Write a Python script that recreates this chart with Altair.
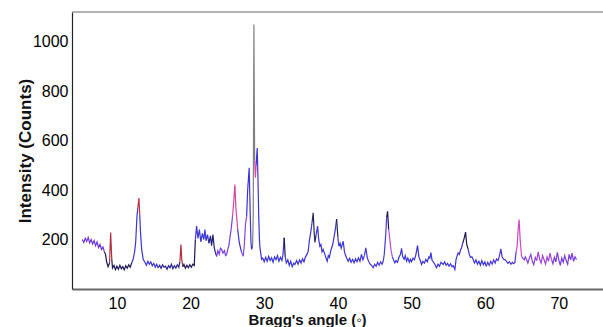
import altair as alt
import pandas as pd

# Powder XRD pattern: diffraction angle (2-theta, degrees) and intensity (counts)
angle = [
    5.3, 5.5, 5.7, 5.9, 6.1, 6.3, 6.5, 6.7, 6.9, 7.1, 7.3, 7.5, 7.7, 7.9, 8.1, 8.3, 8.45, 8.6, 8.8,
    9.0, 9.15, 9.3, 9.4,
    9.6, 9.8, 10.0, 10.2, 10.4, 10.6, 10.8, 11.0, 11.2, 11.4, 11.6, 11.8, 12.0,
    12.2, 12.4, 12.55, 12.72, 12.85, 12.99, 13.1, 13.2, 13.36, 13.57,
    13.8, 14.0, 14.2, 14.4, 14.6, 14.8, 15.0, 15.2, 15.4, 15.6, 15.8, 16.0, 16.2, 16.4, 16.6, 16.8,
    17.0, 17.2, 17.4, 17.6, 17.8, 18.0, 18.2, 18.4, 18.55, 18.69, 18.8, 18.95, 19.1, 19.3, 19.5,
    19.7, 19.9, 20.1, 20.3, 20.5,
    20.65, 20.82, 21.0, 21.2, 21.4, 21.6, 21.8, 21.95, 22.1, 22.3, 22.5, 22.7, 22.85, 23.04, 23.2,
    23.35, 23.54, 23.7, 23.9, 24.05, 24.22, 24.4, 24.6, 24.75, 24.89, 25.05, 25.2, 25.34, 25.5,
    25.7, 25.85, 26.02, 26.15, 26.25, 26.4, 26.61, 26.75, 26.9, 27.05, 27.15, 27.3, 27.45, 27.61,
    27.75, 27.96, 28.1, 28.2, 28.29, 28.42, 28.51, 28.6, 28.7, 28.8, 28.9, 29.05, 29.15, 29.25,
    29.35, 29.42, 29.55, 29.65,
    29.8, 30.0, 30.2, 30.4, 30.6, 30.8, 31.0, 31.2, 31.4, 31.6, 31.8, 32.0, 32.2, 32.4, 32.55,
    32.71, 32.85, 33.0, 33.2, 33.4, 33.6, 33.8, 34.0, 34.17,
    34.4, 34.6, 34.8, 35.0, 35.2, 35.4, 35.6, 35.8, 35.97, 36.15, 36.34, 36.5, 36.65, 36.78, 36.88,
    37.05, 37.25, 37.4, 37.56, 37.7, 37.85, 38.0, 38.24, 38.4, 38.55, 38.7, 38.85, 39.0, 39.15,
    39.3, 39.5, 39.65, 39.83, 40.0, 40.14, 40.3, 40.45, 40.6, 40.72, 40.9, 41.05, 41.18,
    41.4, 41.6, 41.8, 42.0, 42.2, 42.4, 42.6, 42.8, 43.0, 43.2, 43.4, 43.6, 43.8, 44.0, 44.2, 44.4,
    44.6, 44.79, 45.0, 45.2, 45.4, 45.6, 45.8, 46.0, 46.15,
    46.3, 46.5, 46.62, 46.75, 46.9, 47.06, 47.2, 47.4, 47.55, 47.74, 47.9, 48.1, 48.3, 48.5, 48.65,
    48.8, 49.0, 49.15, 49.33, 49.5, 49.7, 49.85, 50.01, 50.2, 50.4, 50.6, 50.82, 51.0, 51.2, 51.36,
    51.55, 51.75, 51.95, 52.15, 52.35, 52.5, 52.63, 52.8, 53.0, 53.2, 53.4, 53.6, 53.8, 54.0, 54.3,
    54.5, 54.7, 54.9, 55.1, 55.3, 55.5, 55.65, 55.89, 56.05, 56.2, 56.33, 56.5, 56.65, 56.79, 56.95,
    57.15, 57.34, 57.5, 57.69, 57.85, 58.0, 58.2, 58.37,
    58.55, 58.75, 58.95, 59.15, 59.35, 59.55, 59.75, 59.95, 60.15, 60.35, 60.55, 60.75, 60.95,
    61.15, 61.35, 61.55, 61.75, 61.95, 62.13, 62.3, 62.5, 62.7, 62.9, 63.1, 63.3, 63.5, 63.7,
    63.85, 64.03,
    64.2, 64.34, 64.48, 64.61, 64.75, 64.94, 65.1, 65.3, 65.45, 65.62, 65.8, 66.0, 66.2, 66.4, 66.6,
    66.8, 67.0, 67.2, 67.4, 67.6, 67.8, 68.0, 68.2, 68.4, 68.6, 68.8, 69.0, 69.2, 69.4, 69.6, 69.8,
    70.0, 70.2, 70.4, 70.6, 70.8, 71.0, 71.2, 71.4, 71.6, 71.8, 72.0, 72.2, 72.4,
]
counts = [
    200, 188, 205, 192, 208, 186, 200, 182, 196, 175, 190, 168, 180, 160, 170, 150, 140, 110, 90,
    105, 228, 120, 85,
    95, 78, 92, 80, 96, 82, 90, 78, 94, 84, 98, 88, 105,
    120, 150, 190, 294, 330, 368, 300, 230, 160, 119,
    108, 96, 112, 100, 110, 94, 104, 88, 100, 86, 96, 84, 98, 88, 92, 80,
    94, 86, 100, 82, 94, 85, 98, 88, 110, 180, 120, 90, 100, 84, 96,
    86, 98, 88, 100, 95,
    200, 254, 205, 240, 190, 225, 200, 240, 195, 220, 185, 215, 175, 220, 170,
    150, 132, 155, 140, 165, 160, 145, 155, 135, 139, 160, 175, 207, 240,
    294, 350, 422, 330, 294, 240, 188, 170, 150, 140, 132, 180, 260, 294,
    400, 490, 300, 190, 160, 175, 300, 1069, 520, 450, 500, 570, 450, 300,
    200, 167, 140, 120,
    125, 110, 128, 112, 132, 115, 126, 108, 130, 118, 135, 112, 128, 115, 140,
    207, 130, 105, 118, 95, 112, 90, 104, 99,
    115, 100, 118, 105, 122, 110, 130, 140, 153, 200, 234, 270, 308, 230, 188,
    220, 254, 200, 173, 180, 150, 160, 139, 125, 112, 135, 128, 150, 166,
    180, 213, 240, 283, 210, 173, 185, 165, 180, 193, 150, 135, 126,
    112, 124, 108, 120, 106, 122, 110, 126, 112, 140, 118, 135, 166, 125, 110, 100,
    95, 86, 100, 92, 108, 96, 110, 100, 112,
    140, 220, 290, 314, 240, 200, 160, 130, 118, 106, 115, 108, 128, 140, 164,
    130, 120, 135, 112, 125, 108, 120, 110, 125, 118, 140, 176, 130, 115, 99,
    112, 105, 120, 110, 130, 125, 147, 115, 108, 98, 86, 100, 92, 108, 99,
    110, 96, 104, 92, 102, 90, 95, 79, 120, 135, 146, 140, 158, 166, 185,
    205, 230, 180, 160, 140, 128, 130, 119,
    105, 118, 100, 112, 96, 115, 98, 110, 92, 108, 95, 112, 100,
    118, 105, 122, 115, 135, 162, 130, 120, 118, 112, 104, 110, 100, 108,
    102, 106,
    150, 173, 240, 281, 200, 132, 125, 118, 130, 119, 105, 125, 140, 112, 98,
    128, 115, 150, 120, 105, 135, 118, 100, 130, 112, 145, 120, 102, 128, 110, 148,
    118, 96, 125, 108, 135, 115, 100, 140, 118, 145, 112, 130, 119,
]

# Trace colour changes along the scan: each band starts at the given angle
band_start = [
    5.0, 8.2, 8.95, 9.3, 11.9, 12.85, 13.1, 15.5, 18.5, 18.9, 20.6, 22.5, 23.5, 25.6,
    26.3, 26.9, 27.5, 28.35, 28.7, 28.85, 32.6, 32.85, 36.4, 36.9, 39.7, 40.0, 43.5,
    46.6, 46.85, 47.3, 56.9, 57.6, 60.0, 64.2, 64.9, 67.0, 69.0,
]
band_color = [
    "#6f35d8", "#1c1656", "#b0303e", "#1c1656", "#3b34d6", "#c2304a", "#3b34d6", "#2a238f",
    "#b0303e", "#1c1656", "#3b34d6", "#22206e", "#7a3fe0", "#d4479e",
    "#3b34d6", "#8a45e0", "#3b34d6", "#808080", "#d84c9c", "#3b34d6", "#1c1656", "#3b34d6",
    "#2a2a60", "#3b34d6", "#222050", "#3b34d6", "#4a3ad8",
    "#1c1656", "#b64cd8", "#3b34d6", "#1c1656", "#3b34d6", "#4a36d6", "#d048c0", "#8a40e0",
    "#a544d8", "#7a3be0",
]

rows = []
n_bands = len(band_start)
for b in range(n_bands):
    lo = band_start[b]
    hi = band_start[b + 1] if b + 1 < n_bands else 999
    idx = [i for i, a in enumerate(angle) if lo <= a < hi]
    if not idx:
        continue
    # carry the segment on to the next sample so the trace stays continuous
    if idx[-1] + 1 < len(angle):
        idx.append(idx[-1] + 1)
    for i in idx:
        rows.append({"angle": angle[i], "counts": counts[i], "band": f"b{b:02d}"})

df = pd.DataFrame(rows)
band_ids = [f"b{b:02d}" for b in range(n_bands)]

W, H = 531, 277

trace = alt.Chart(df).mark_line(strokeWidth=1.2, interpolate="linear").encode(
    x=alt.X(
        "angle:Q",
        scale=alt.Scale(domain=[3.9, 76.0], nice=False, zero=False),
        axis=alt.Axis(
            values=[10, 20, 30, 40, 50, 60, 70],
            format="d",
            ticks=False,
            tickSize=0,
            grid=False,
            domainColor="#666666",
            domainWidth=2,
            labelFontSize=16,
            labelColor="#000000",
            labelPadding=6,
            title="Bragg's angle (◦)",
            titleFontSize=15,
            titleFontWeight="bold",
            titleColor="#111111",
            titleX=235,
            titleY=35,
            titleAlign="center",
            titleBaseline="alphabetic",
        ),
    ),
    y=alt.Y(
        "counts:Q",
        scale=alt.Scale(domain=[0, 1120], nice=False),
        axis=alt.Axis(
            values=[200, 400, 600, 800, 1000],
            format="d",
            ticks=False,
            tickSize=0,
            grid=False,
            domainColor="#222222",
            domainWidth=1.2,
            labelFontSize=16,
            labelColor="#000000",
            labelPadding=4,
            title="Intensity (Counts)",
            titleFontSize=17,
            titleFontWeight="bold",
            titleColor="#111111",
            titleAngle=270,
            titleX=-47,
            titleY=H / 2,
            titleAlign="center",
            titleBaseline="middle",
        ),
    ),
    color=alt.Color("band:N", scale=alt.Scale(domain=band_ids, range=band_color), legend=None),
    detail="band:N",
)

# upper frame line of the plot area
frame_top = alt.Chart(pd.DataFrame({"k": [0]})).mark_rule(color="#666666", strokeWidth=1.2).encode(
    x=alt.value(0), x2=alt.value(W), y=alt.value(0)
)

chart = (
    alt.layer(trace, frame_top)
    .properties(
        width=W,
        height=H,
        autosize=alt.AutoSizeParams(type="none"),
        padding={"left": 72, "top": 12, "right": 0, "bottom": 38},
        background="#ffffff",
    )
    .configure_view(stroke=None)
    .configure_axis(labelFont="Liberation Sans", titleFont="Liberation Sans")
)

chart.save("out.html", embed_options={"renderer": "svg", "actions": False})
